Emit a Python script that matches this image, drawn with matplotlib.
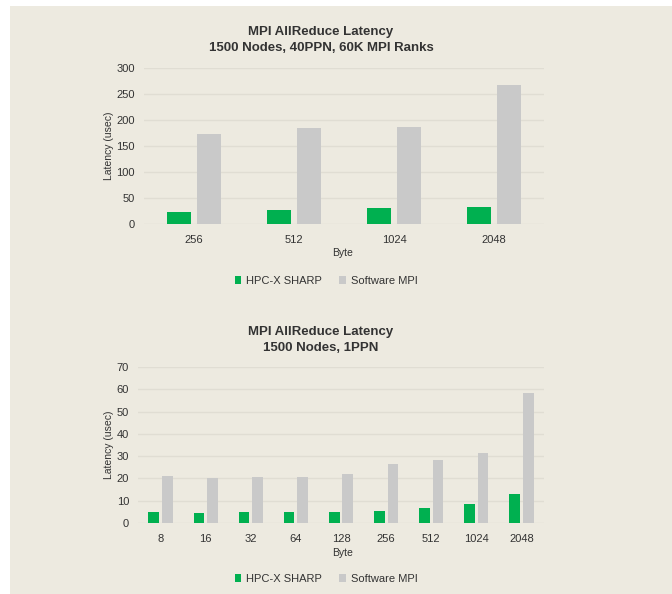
import numpy as np
import matplotlib
matplotlib.use("Agg")
import matplotlib.pyplot as plt
from matplotlib.patches import Rectangle, Patch

plt.rcParams['font.family'] = ['Liberation Sans', 'DejaVu Sans']

# Data
top_cats = ["256", "512", "1024", "2048"]
top_sharp = [24, 26, 30, 32]
top_soft = [173, 184, 186, 267]

bot_cats = ["8", "16", "32", "64", "128", "256", "512", "1024", "2048"]
bot_sharp = [5.1, 4.6, 5.1, 4.8, 5.1, 5.5, 6.6, 8.5, 13.2]
bot_soft = [20.9, 20.1, 20.5, 20.8, 21.8, 26.5, 28.1, 31.6, 58.3]

top_title = "MPI AllReduce Latency\n1500 Nodes, 40PPN, 60K MPI Ranks"
bot_title = "MPI AllReduce Latency\n1500 Nodes, 1PPN"
series_names = ["HPC-X SHARP", "Software MPI"]

BG = "#EDEAE0"
GREEN = "#00B050"
GREY = "#C9C9C9"
TXT = "#333333"
GRID = "#E0DDD3"

W, H = 672, 594
fig = plt.figure(figsize=(W / 100, H / 100), dpi=100)
fig.patch.set_facecolor("white")
fig.add_artist(Rectangle((10 / W, 0), 1 - 10 / W, 1 - 6 / H, transform=fig.transFigure,
                         facecolor=BG, edgecolor="none", zorder=-10))


def fx(px):
    return px / W


def fy(py):
    return 1 - py / H


def make(ax_rect, cats, s1, s2, ymax, ystep, title, title_y, byte_y, legend_y):
    ax = fig.add_axes(ax_rect)
    ax.set_facecolor("none")
    x = np.arange(len(cats))
    bw = 0.235
    off = 0.15
    ax.bar(x - off, s1, width=bw, color=GREEN, zorder=3)
    ax.bar(x + off, s2, width=bw, color=GREY, zorder=3)
    ax.set_xlim(-0.5, len(cats) - 0.5)
    ax.set_ylim(0, ymax)
    ax.set_yticks(np.arange(0, ymax + 1, ystep))
    ax.set_xticks(x)
    ax.set_xticklabels(cats)
    ax.tick_params(axis="both", length=0, labelsize=8, colors=TXT)
    ax.tick_params(axis="y", pad=6.5)
    ax.tick_params(axis="x", pad=8)
    for s in ax.spines.values():
        s.set_visible(False)
    ax.yaxis.grid(True, color=GRID, linewidth=1.0, zorder=0)
    ax.set_axisbelow(True)
    ax.set_ylabel("Latency (usec)", fontsize=7.5, color=TXT, labelpad=2)
    fig.text(fx(321), fy(title_y), title, ha="center", va="center", fontsize=9.5,
             fontweight="bold", color=TXT, linespacing=1.45)
    fig.text(fx(343), fy(byte_y), "Byte", ha="center", va="center", fontsize=7.5, color=TXT)
    handles = [Patch(facecolor=GREEN, edgecolor="none"), Patch(facecolor=GREY, edgecolor="none")]
    fig.legend(handles, series_names, loc="center", bbox_to_anchor=(fx(326), fy(legend_y)),
               ncol=2, frameon=False, fontsize=8, handlelength=0.6, handleheight=0.8,
               handletextpad=0.4, columnspacing=1.6, labelcolor=TXT)
    return ax


make([fx(144), fy(224), fx(544) - fx(144), fy(68) - fy(224)], top_cats, top_sharp, top_soft,
     300, 50, top_title, 40, 253, 281)
make([fx(138), fy(523), fx(544) - fx(138), fy(367) - fy(523)], bot_cats, bot_sharp, bot_soft,
     70, 10, bot_title, 340, 553, 579)

fig.savefig("out.png", dpi=100, facecolor=fig.get_facecolor())
